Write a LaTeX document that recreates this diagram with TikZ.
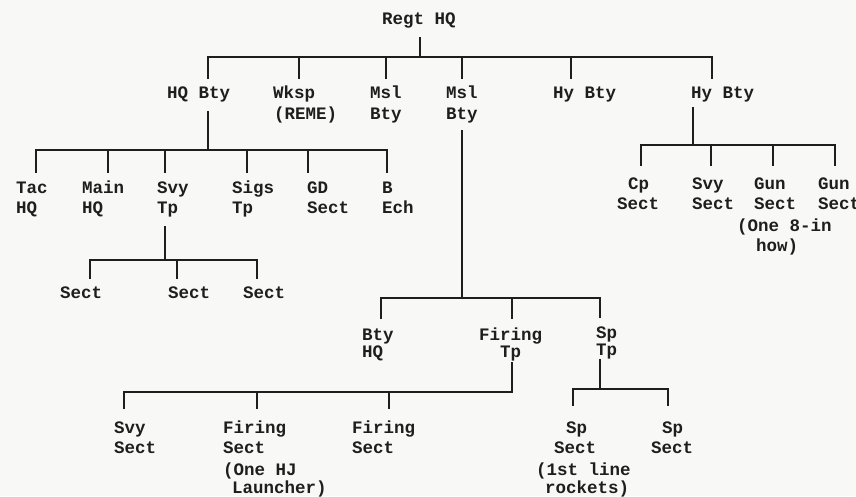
\documentclass[tikz,border=0pt]{standalone}
\usepackage{fontspec}
\setmonofont{Liberation Mono}
\definecolor{ink}{HTML}{1E1E1E}
\definecolor{paper}{HTML}{F8F8F6}
\begin{document}
\begin{tikzpicture}[x=1pt,y=-1pt,
  lab/.style={anchor=base west, inner sep=0pt, text=ink,
    font=\ttfamily\bfseries\fontsize{17.5}{21}\selectfont},
  link/.style={draw=ink, line width=1.7pt, line cap=rect}]
\fill[paper] (0,0) rectangle (856,496);
\useasboundingbox (0,0) rectangle (856,496);

% ---------- labels ----------
\node[lab] (regt) at (382,24) {Regt HQ};
\node[lab] (hqbty) at (167,98) {HQ Bty};
\node[lab] (wksp) at (273,98) {Wksp};
\node[lab] (wksp2) at (274,119) {(REME)};
\node[lab] (msla) at (370,98) {Msl};
\node[lab] (msla2) at (370,119) {Bty};
\node[lab] (mslb) at (446,98) {Msl};
\node[lab] (mslb2) at (446,119) {Bty};
\node[lab] (hya) at (553,98) {Hy Bty};
\node[lab] (hyb) at (691,98) {Hy Bty};

\node[lab] (tac) at (16,193) {Tac};
\node[lab] (tac2) at (16,213) {HQ};
\node[lab] (main) at (82,193) {Main};
\node[lab] (main2) at (82,213) {HQ};
\node[lab] (svytp) at (157,193) {Svy};
\node[lab] (svytp2) at (157,213) {Tp};
\node[lab] (sigs) at (232,193) {Sigs};
\node[lab] (sigs2) at (232,213) {Tp};
\node[lab] (gd) at (307,193) {GD};
\node[lab] (gd2) at (307,213) {Sect};
\node[lab] (bech) at (382,193) {B};
\node[lab] (bech2) at (382,213) {Ech};

\node[lab] (sa) at (60,298) {Sect};
\node[lab] (sb) at (168,298) {Sect};
\node[lab] (sc) at (243,298) {Sect};

\node[lab] (btyhq) at (362,340) {Bty};
\node[lab] (btyhq2) at (362,357) {HQ};
\node[lab] (firtp) at (479,340) {Firing};
\node[lab] (firtp2) at (500,357) {Tp};
\node[lab] (sptp) at (596,338) {Sp};
\node[lab] (sptp2) at (596,355) {Tp};

\node[lab] (svys) at (114,433) {Svy};
\node[lab] (svys2) at (114,453) {Sect};
\node[lab] (fsa) at (223,433) {Firing};
\node[lab] (fsa2) at (223,453) {Sect};
\node[lab] (fsa3) at (223,475) {(One HJ};
\node[lab] (fsa4) at (232,493) {Launcher)};
\node[lab] (fsb) at (352,433) {Firing};
\node[lab] (fsb2) at (352,453) {Sect};
\node[lab] (spa) at (566,433) {Sp};
\node[lab] (spa2) at (554,453) {Sect};
\node[lab] (spa3) at (536,475) {(1st line};
\node[lab] (spa4) at (545,493) {rockets)};
\node[lab] (spb) at (662,433) {Sp};
\node[lab] (spb2) at (651,453) {Sect};

\node[lab] (cp) at (628,189) {Cp};
\node[lab] (cp2) at (617,209) {Sect};
\node[lab] (svyh) at (692,189) {Svy};
\node[lab] (svyh2) at (692,209) {Sect};
\node[lab] (guna) at (754,189) {Gun};
\node[lab] (guna2) at (754,209) {Sect};
\node[lab] (guna3) at (737,231) {(One 8-in};
\node[lab] (guna4) at (756,251) {how)};
\node[lab] (gunb) at (818,189) {Gun};
\node[lab] (gunb2) at (818,209) {Sect};

% ---------- connector end points ----------
\coordinate (regt-d) at (420,38);
\coordinate (bar0) at (0,57);
\coordinate (hqbty-u) at (208,78);
\coordinate (wksp-u) at (299,78);
\coordinate (msla-u) at (386,78);
\coordinate (mslb-u) at (462,78);
\coordinate (hya-u) at (571,78);
\coordinate (hyb-u) at (712,78);

\coordinate (hqbty-d) at (208,112);
\coordinate (bar1) at (0,150);
\coordinate (tac-u) at (36,172);
\coordinate (main-u) at (108,172);
\coordinate (svytp-u) at (165,172);
\coordinate (sigs-u) at (247,172);
\coordinate (gd-u) at (308,172);
\coordinate (bech-u) at (387,172);

\coordinate (svytp-d) at (165,227);
\coordinate (bar2) at (0,260);
\coordinate (sa-u) at (90,278);
\coordinate (sb-u) at (177,278);
\coordinate (sc-u) at (257,278);

\coordinate (mslb-d) at (462,131);
\coordinate (bar3) at (0,298);
\coordinate (btyhq-u) at (381,318);
\coordinate (firtp-u) at (512,318);
\coordinate (sptp-u) at (600,317);

\coordinate (firtp-d) at (512,363);
\coordinate (bar4) at (0,392);
\coordinate (svys-u) at (124,408);
\coordinate (fsa-u) at (257,408);
\coordinate (fsb-u) at (389,408);

\coordinate (sptp-d) at (600,360);
\coordinate (bar5) at (0,389);
\coordinate (spa-u) at (573,405);
\coordinate (spb-u) at (668,405);

\coordinate (hyb-d) at (693,108);
\coordinate (bar6) at (0,145);
\coordinate (cp-u) at (641,165);
\coordinate (svyh-u) at (711,165);
\coordinate (guna-u) at (773,165);
\coordinate (gunb-u) at (835,165);

% ---------- connectors ----------
\draw[link] (regt-d) -- (regt-d |- bar0);
\draw[link] (hqbty-u |- bar0) -- (hyb-u |- bar0);
\foreach \c in {hqbty-u,wksp-u,msla-u,mslb-u,hya-u,hyb-u}
  \draw[link] (\c |- bar0) -- (\c);

\draw[link] (hqbty-d) -- (hqbty-d |- bar1);
\draw[link] (tac-u |- bar1) -- (bech-u |- bar1);
\foreach \c in {tac-u,main-u,svytp-u,sigs-u,gd-u,bech-u}
  \draw[link] (\c |- bar1) -- (\c);

\draw[link] (svytp-d) -- (svytp-d |- bar2);
\draw[link] (sa-u |- bar2) -- (sc-u |- bar2);
\foreach \c in {sa-u,sb-u,sc-u}
  \draw[link] (\c |- bar2) -- (\c);

\draw[link] (mslb-d) -- (mslb-d |- bar3);
\draw[link] (btyhq-u |- bar3) -- (sptp-u |- bar3);
\foreach \c in {btyhq-u,firtp-u,sptp-u}
  \draw[link] (\c |- bar3) -- (\c);

\draw[link] (firtp-d) -- (firtp-d |- bar4);
\draw[link] (svys-u |- bar4) -- (firtp-d |- bar4);
\foreach \c in {svys-u,fsa-u,fsb-u}
  \draw[link] (\c |- bar4) -- (\c);

\draw[link] (sptp-d) -- (sptp-d |- bar5);
\draw[link] (spa-u |- bar5) -- (spb-u |- bar5);
\foreach \c in {spa-u,spb-u}
  \draw[link] (\c |- bar5) -- (\c);

\draw[link] (hyb-d) -- (hyb-d |- bar6);
\draw[link] (cp-u |- bar6) -- (gunb-u |- bar6);
\foreach \c in {cp-u,svyh-u,guna-u,gunb-u}
  \draw[link] (\c |- bar6) -- (\c);
\end{tikzpicture}
\end{document}
